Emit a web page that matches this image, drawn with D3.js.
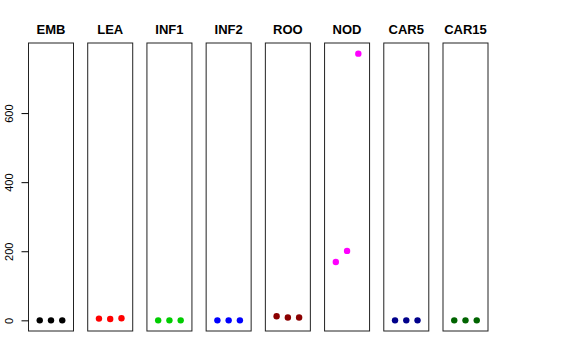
<!DOCTYPE html>
<html>
<head>
<meta charset="utf-8">
<script src="https://cdn.jsdelivr.net/npm/d3@7"></script>
<style>
  body { margin: 0; background: #fff; }
  svg { display: block; font-family: "Liberation Sans", Arial, sans-serif; }
</style>
</head>
<body>
<svg width="576" height="360"></svg>
<script>
// one panel per tissue, three replicate points each
const tissues = ["EMB", "LEA", "INF1", "INF2", "ROO", "NOD", "CAR5", "CAR15"]
const colors = ["#000000", "#ff0000", "#00cd00", "#0000ff", "#8b0000", "#ff00ff", "#00008b", "#006400"]
const rep1 = [0, 5, 0, 0, 12, 169, 0, 0]
const rep2 = [0, 4, 0, 0, 8, 201, 0, 0]
const rep3 = [0, 6, 0, 0, 8, 772, 0, 0]
const yTicks = [0, 200, 400, 600]

var svg = d3.select("svg")

var plotTop = 43, plotBottom = 331

// R style 4% padding on the y range
var all = rep1.concat(rep2, rep3)
var lo = d3.min(all), hi = d3.max(all)
var pad = (hi - lo) * 0.04
var y = d3.scaleLinear().domain([lo - pad, hi + pad]).range([plotBottom, plotTop])

var panel = d3.scaleBand()
  .domain(tissues)
  .range([28.5, 488])
  .paddingInner(0.24)
  .paddingOuter(0)

var x = d3.scaleLinear().domain([0, 4]).range([0, panel.bandwidth()])

tissues.forEach(function(t, i) {
  var g = svg.append("g").attr("transform", "translate(" + panel(t) + ",0)")

  g.append("rect")
    .attr("x", 0)
    .attr("y", plotTop)
    .attr("width", panel.bandwidth())
    .attr("height", plotBottom - plotTop)
    .style("fill", "none")
    .style("stroke", "#222")
    .style("stroke-width", 1)

  g.append("text")
    .attr("x", panel.bandwidth() / 2)
    .attr("y", 34)
    .attr("text-anchor", "middle")
    .style("font-weight", "bold")
    .style("font-size", "13px")
    .text(t)

  var vals = [rep1[i], rep2[i], rep3[i]]
  g.selectAll("circle")
    .data(vals)
    .enter().append("circle")
    .attr("cx", (d, j) => x(j + 1))
    .attr("cy", d => y(d))
    .attr("r", 3.2)
    .style("fill", colors[i])
})

// y axis on the first panel
var axis = svg.append("g")
  .attr("transform", "translate(" + panel(tissues[0]) + ",0)")
  .call(d3.axisLeft(y).tickValues(yTicks).tickSize(7).tickFormat(d3.format("d")))

axis.select(".domain").remove()
axis.selectAll("line").style("stroke", "#000")
axis.selectAll("text")
  .attr("transform", "rotate(-90)")
  .attr("x", 0)
  .attr("y", -16)
  .attr("dy", 0)
  .attr("text-anchor", "middle")
  .style("font-family", "Liberation Sans, Arial, sans-serif")
  .style("font-size", "11px")
  .style("fill", "#000")
</script>
</body>
</html>
